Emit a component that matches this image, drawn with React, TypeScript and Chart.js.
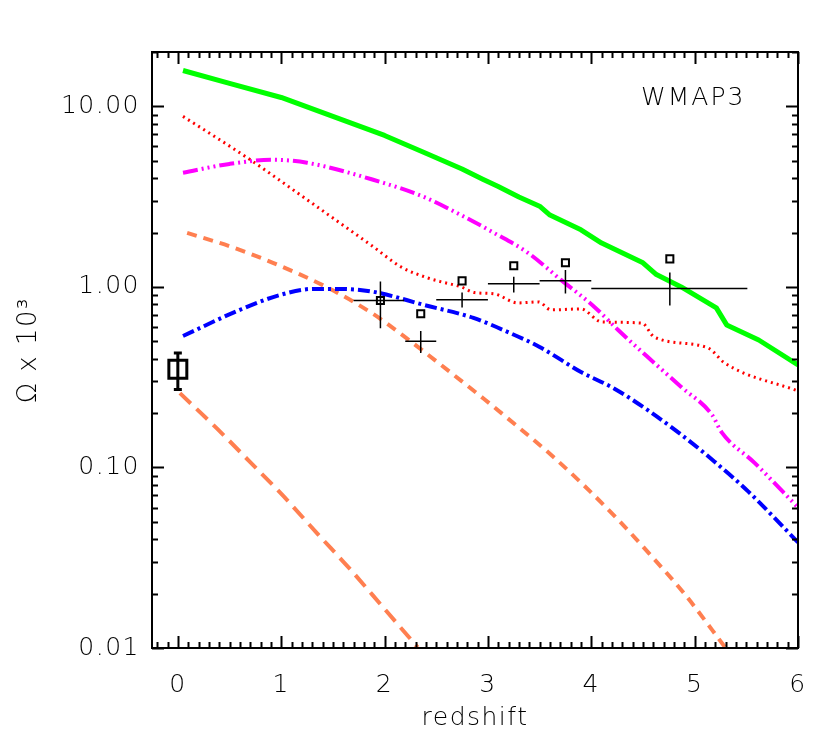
import React, { useEffect, useRef } from "react";
import { Chart, registerables } from "chart.js";
Chart.register(...registerables);

// ---- data ----
const xTickValues = [0, 1, 2, 3, 4, 5, 6];
const yTickValues = [0.01, 0.1, 1, 10];

const greenZ = [0.05, 0.5, 1.0, 1.5, 2.0, 2.4, 2.75, 2.95, 3.1, 3.3, 3.5, 3.6, 3.9, 4.1, 4.5, 4.63, 4.87, 5.21, 5.31, 5.62, 6.0];
const greenV = [15.8, 13.4, 11.2, 8.8, 6.9, 5.5, 4.5, 3.95, 3.6, 3.15, 2.8, 2.5, 2.07, 1.75, 1.36, 1.17, 1.0, 0.765, 0.616, 0.508, 0.37];

const redZ = [0.05, 0.67, 1.25, 1.89, 2.16, 2.42, 2.54, 2.74, 2.87, 3.06, 3.29, 3.49, 3.61, 3.9, 4.1, 4.49, 4.61, 5.13, 5.29, 6.0];
const redV = [8.8, 5.2, 3.04, 1.67, 1.29, 1.12, 1.07, 1.0, 0.93, 0.915, 0.815, 0.826, 0.746, 0.755, 0.64, 0.63, 0.527, 0.459, 0.379, 0.265];

const magentaZ = [0.05, 0.5, 0.92, 1.25, 1.89, 2.38, 2.74, 3.06, 3.39, 3.71, 4.03, 4.26, 4.61, 4.87, 5.17, 5.26, 5.58, 6.0];
const magentaV = [4.29, 4.8, 5.06, 4.87, 3.92, 3.15, 2.5, 1.99, 1.54, 1.09, 0.775, 0.577, 0.379, 0.279, 0.195, 0.157, 0.106, 0.06];

const blueZ = [0.05, 0.6, 0.99, 1.31, 1.57, 1.89, 2.38, 2.86, 3.19, 3.5, 3.9, 4.22, 4.55, 4.87, 5.19, 5.52, 6.0];
const blueV = [0.535, 0.746, 0.903, 0.975, 0.975, 0.94, 0.795, 0.673, 0.563, 0.465, 0.338, 0.274, 0.207, 0.152, 0.108, 0.0735, 0.0385];

const orangeUpperZ = [0.09, 0.5, 0.92, 1.45, 1.89, 2.18, 2.54, 2.96, 3.29, 3.61, 3.93, 4.26, 4.58, 4.9, 5.3];
const orangeUpperV = [1.99, 1.68, 1.36, 0.99, 0.708, 0.537, 0.372, 0.24, 0.168, 0.1175, 0.0794, 0.0513, 0.0324, 0.02, 0.01];

const orangeLowerZ = [0.02, 0.38, 0.7, 1.02, 1.35, 1.67, 1.99, 2.32];
const orangeLowerV = [0.258, 0.164, 0.107, 0.0695, 0.043, 0.0272, 0.0167, 0.0101];

const crossZ = [1.96, 2.35, 2.75, 3.25, 3.75, 4.76];
const crossV = [0.84, 0.5, 0.85, 1.04, 1.08, 0.98];
const crossZLo = [1.7, 2.2, 2.5, 3.0, 3.5, 4.0];
const crossZHi = [2.19, 2.5, 3.0, 3.5, 4.0, 5.51];
const crossVLo = [0.59, 0.43, 0.77, 0.93, 0.92, 0.79];
const crossVHi = [1.07, 0.57, 0.93, 1.14, 1.24, 1.2];

const squareZ = [1.96, 2.35, 2.75, 3.25, 3.75, 4.76];
const squareV = [0.84, 0.71, 1.08, 1.31, 1.36, 1.43];

const localZ = [0.0];
const localV = [0.35];
const localVLo = [0.27];
const localVHi = [0.43];

const FONT = "'DejaVu Sans', sans-serif";
const WEIGHT = 200;

const toPts = (xs: number[], ys: number[]) => xs.map((x, i) => ({ x, y: ys[i] }));

const overlayPlugin = {
  id: "overlay",
  beforeDraw(chart: any) {
    const ctx = chart.ctx;
    if ("letterSpacing" in ctx) ctx.letterSpacing = "1.5px";
  },
  afterDatasetsDraw(chart: any) {
    const ctx = chart.ctx;
    const xs = chart.scales.x;
    const ys = chart.scales.y;
    ctx.save();
    ctx.strokeStyle = "#000";
    ctx.lineWidth = 1.5;
    for (let i = 0; i < crossZ.length; i++) {
      const cx = xs.getPixelForValue(crossZ[i]);
      const cy = ys.getPixelForValue(crossV[i]);
      ctx.beginPath();
      ctx.moveTo(xs.getPixelForValue(crossZLo[i]), cy);
      ctx.lineTo(xs.getPixelForValue(crossZHi[i]), cy);
      ctx.moveTo(cx, ys.getPixelForValue(crossVLo[i]));
      ctx.lineTo(cx, ys.getPixelForValue(crossVHi[i]));
      ctx.stroke();
    }
    ctx.lineWidth = 3;
    for (let i = 0; i < localZ.length; i++) {
      const cx = xs.getPixelForValue(localZ[i]);
      const y1 = ys.getPixelForValue(localVLo[i]);
      const y2 = ys.getPixelForValue(localVHi[i]);
      ctx.beginPath();
      ctx.moveTo(cx, y1);
      ctx.lineTo(cx, y2);
      ctx.moveTo(cx - 4, y1);
      ctx.lineTo(cx + 4, y1);
      ctx.moveTo(cx - 4, y2);
      ctx.lineTo(cx + 4, y2);
      ctx.stroke();
    }
    ctx.restore();
  },
  afterDraw(chart: any) {
    const ctx = chart.ctx;
    const xs = chart.scales.x;
    const ys = chart.scales.y;
    const a = chart.chartArea;
    ctx.save();
    ctx.strokeStyle = "#000";
    ctx.lineWidth = 2;
    ctx.strokeRect(a.left, a.top, a.right - a.left, a.bottom - a.top);
    ctx.beginPath();
    for (let k = -2; k <= 60; k++) {
      const v = k / 10;
      if (v < xs.min || v > xs.max) continue;
      const px = Math.round(xs.getPixelForValue(v)) + 0.5;
      const len = k % 10 === 0 ? 12 : 6;
      ctx.moveTo(px, a.bottom);
      ctx.lineTo(px, a.bottom - len);
      ctx.moveTo(px, a.top);
      ctx.lineTo(px, a.top + len);
    }
    for (const d of yTickValues) {
      for (let m = 1; m <= 9; m++) {
        const v = d * m;
        if (v < ys.min || v > ys.max) continue;
        const py = Math.round(ys.getPixelForValue(v)) + 0.5;
        const len = m === 1 ? 12 : 6;
        ctx.moveTo(a.left, py);
        ctx.lineTo(a.left + len, py);
        ctx.moveTo(a.right, py);
        ctx.lineTo(a.right - len, py);
      }
    }
    ctx.stroke();
    ctx.fillStyle = "#000";
    ctx.font = `${WEIGHT} 25px ${FONT}`;
    if ("letterSpacing" in ctx) ctx.letterSpacing = "2px";
    ctx.textAlign = "left";
    ctx.textBaseline = "middle";
    ctx.fillText("WMAP3", 641, 98);
    ctx.restore();
  },
};

export default function App() {
  const ref = useRef<HTMLCanvasElement | null>(null);
  useEffect(() => {
    if (!ref.current) return;
    const smooth = { cubicInterpolationMode: "monotone" };
    const chart = new Chart(ref.current, {
      type: "scatter",
      data: {
        datasets: [
          { data: toPts(squareZ, squareV), showLine: false, pointStyle: "rect", pointRadius: 5, borderColor: "#000", backgroundColor: "rgba(0,0,0,0)", borderWidth: 2 },
          { data: toPts(localZ, localV), showLine: false, pointStyle: "rect", pointRadius: 12.7, borderColor: "#000", backgroundColor: "rgba(0,0,0,0)", borderWidth: 3 },
          { data: toPts(greenZ, greenV), showLine: true, pointRadius: 0, borderColor: "#00ff00", borderWidth: 5, borderJoinStyle: "round" },
          { data: toPts(redZ, redV), showLine: true, pointRadius: 0, borderColor: "#ff0000", borderWidth: 3, borderDash: [2, 4], ...smooth },
          { data: toPts(magentaZ, magentaV), showLine: true, pointRadius: 0, borderColor: "#ff00ff", borderWidth: 4, borderDash: [15, 4, 2, 4, 2, 4, 2, 4], ...smooth },
          { data: toPts(blueZ, blueV), showLine: true, pointRadius: 0, borderColor: "#0000ff", borderWidth: 4, borderDash: [12, 4, 3, 4], ...smooth },
          { data: toPts(orangeUpperZ, orangeUpperV), showLine: true, pointRadius: 0, borderColor: "#ff7f50", borderWidth: 4, borderDash: [10, 7], ...smooth },
          { data: toPts(orangeLowerZ, orangeLowerV), showLine: true, pointRadius: 0, borderColor: "#ff7f50", borderWidth: 4, borderDash: [15, 8], ...smooth },
        ],
      },
      options: {
        responsive: false,
        animation: false,
        events: [],
        layout: { padding: { top: 52, right: 32, left: 0, bottom: 0 } },
        plugins: { legend: { display: false }, tooltip: { enabled: false } },
        scales: {
          x: {
            type: "linear",
            min: -0.25,
            max: 6,
            grid: { display: false, drawTicks: false },
            border: { display: false },
            afterBuildTicks: (s: any) => {
              s.ticks = xTickValues.map((v) => ({ value: v }));
            },
            afterFit: (s: any) => {
              s.height = 107;
            },
            ticks: {
              autoSkip: false,
              maxRotation: 0,
              padding: 22,
              color: "#000",
              font: { family: FONT, size: 25, weight: WEIGHT },
              callback: (v: any) => String(v),
            },
            title: {
              display: true,
              text: "redshift",
              color: "#000",
              font: { family: FONT, size: 25, weight: WEIGHT },
              padding: { top: 0, bottom: 22 },
            },
          },
          y: {
            type: "logarithmic",
            min: 0.01,
            max: 20,
            grid: { display: false, drawTicks: false },
            border: { display: false },
            afterBuildTicks: (s: any) => {
              s.ticks = yTickValues.map((v) => ({ value: v }));
            },
            afterFit: (s: any) => {
              s.width = 152;
            },
            ticks: {
              autoSkip: false,
              padding: 12,
              color: "#000",
              font: { family: FONT, size: 25, weight: WEIGHT },
              callback: (v: any) => Number(v).toFixed(2),
            },
            title: {
              display: true,
              text: "Ω x 10³",
              color: "#000",
              font: { family: FONT, size: 26, weight: WEIGHT },
              padding: { top: 14, bottom: 0 },
            },
          },
        },
      },
      plugins: [overlayPlugin],
    } as any);
    return () => chart.destroy();
  }, []);
  return (
    <div style={{ position: "absolute", left: 0, top: 0, width: 830, height: 755, background: "#fff" }}>
      <canvas ref={ref} width={830} height={755} style={{ display: "block" }} />
    </div>
  );
}
